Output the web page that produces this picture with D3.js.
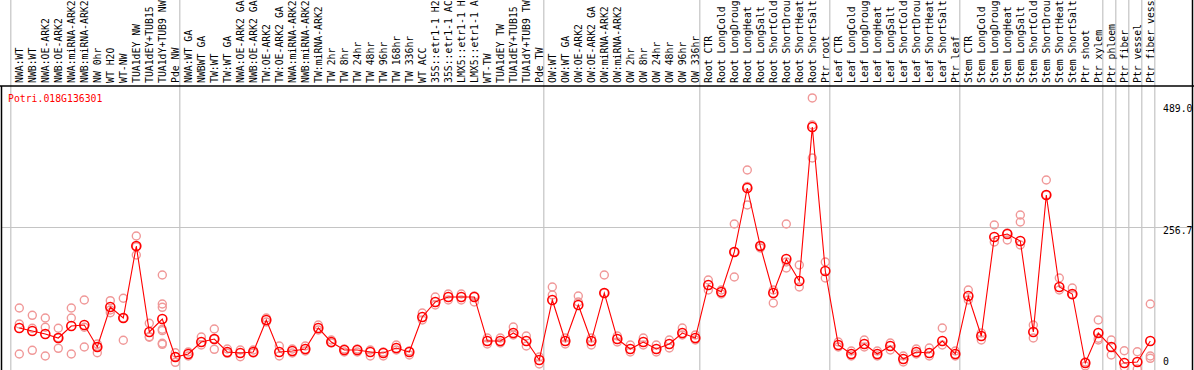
<!DOCTYPE html>
<html><head><meta charset="utf-8">
<script src="https://cdn.jsdelivr.net/npm/d3@7"></script>
<style>body{margin:0;background:#fff}svg{display:block}text{font-family:"DejaVu Sans Mono",monospace;font-size:9.8px}</style>
</head><body><svg id="c" width="1194" height="370"></svg>
<script>
const categories = ["NWA:WT","NWB:WT","NWA:OE-ARK2","NWB:OE-ARK2","NWA:miRNA-ARK2","NWB:miRNA-ARK2","NW 0hr","WT H2O","WT-NW","TUA1dEY NW","TUA1dEY+TUB15","TUA1dY+TUB9 NW","Pde NW",
"NWA:WT GA","NWBWT GA","TW:WT","TW:WT GA","NWA:OE-ARK2 GA","NWB:OE-ARK2 GA","TW:OE-ARK2","TW:OE-ARK2 GA","NWA:miRNA-ARK2","NWB:miRNA-ARK2","TW:miRNA-ARK2","TW 2hr","TW 8hr","TW 24hr","TW 48hr","TW 96hr","TW 168hr","TW 336hr","WT ACC","35S::etr1-1 H2","35S::etr1-1 AC","LMX5::etr1-1 H","LMX5::etr1-1 A","WT-TW","TUA1dEY TW","TUA1dEY+TUB15","TUA1dY+TUB9 TW","Pde TW",
"OW:WT","OW:WT GA","OW:OE-ARK2","OW:OE-ARK2 GA","OW:miRNA-ARK2","OW:miRNA-ARK2","OW 2hr","OW 8hr","OW 24hr","OW 48hr","OW 96hr","OW 336hr",
"Root CTR","Root LongCold","Root LongDroug","Root LongHeat","Root LongSalt","Root ShortCold","Root ShortDrou","Root ShortHeat","Root ShortSalt","Ptr root",
"Leaf CTR","Leaf LongCold","Leaf LongDroug","Leaf LongHeat","Leaf LongSalt","Leaf ShortCold","Leaf ShortDrou","Leaf ShortHeat","Leaf ShortSalt","Ptr leaf",
"Stem CTR","Stem LongCold","Stem LongDroug","Stem LongHeat","Stem LongSalt","Stem ShortCold","Stem ShortDrou","Stem ShortHeat","Stem ShortSalt","Ptr shoot","Ptr xylem","Ptr phloem","Ptr fiber","Ptr vessel","Ptr fiber vess"];
const means = [75.5,70.1,64.7,57.5,79.1,80.9,41.4,113.3,93.5,222.9,68.3,91.7,23.4,
28.8,50.3,55.7,32.4,30.6,32.4,89.9,32.4,34.2,37.8,75.5,50.3,36.0,36.0,32.4,30.6,39.6,32.4,95.3,122.3,131.3,131.3,131.3,52.1,52.1,66.5,52.1,18.0,
125.9,52.1,116.9,52.1,138.4,55.7,37.8,50.3,37.8,46.7,66.5,57.5,
152.8,140.2,212.2,327.2,222.9,138.4,199.6,160.0,436.9,178.0,
45.0,28.8,46.7,28.8,43.2,19.8,32.4,30.6,52.1,28.8,
133.1,61.1,239.1,244.5,231.9,68.3,314.7,149.2,136.6,12.6,66.5,41.4,12.6,14.4,52.1];
const replicates = [[111.5,82.7,28.8],[98.3,75.0,35.4],[93.5,76.8,25.2],[75.0,39.0,58.1],[111.5,93.5,28.8],[125.9,76.8,41.4],[46.7,41.4,31.1],[124.6,107.9,103.0],[128.9,93.5,53.4],[240.9,206.8,221.7],[84.0,59.9,58.8],[170.8,118.7,112.7,73.2,70.7,48.0,46.2],[31.1,23.9,13.8],
[32.4,25.2],[59.3,45.0],[73.7,37.2,55.7],[37.8,30.0],[36.0,23.9],[36.0,30.6],[93.5,86.3],[43.2,25.2],[37.8,30.6],[43.2,34.2],[80.9,71.9],[53.9,48.5],[37.8,32.4],[37.8,32.4],[36.0,25.2],[32.4,25.2],[45.0,36.0],[34.2,27.0],[102.5,89.9],[131.3,116.9],[136.6,125.9],[136.6,125.9],[133.1,122.3],[57.5,46.7],[57.5,48.5],[77.3,62.9],[61.1,43.2],[23.4,10.8],
[149.2,134.9],[57.5,46.7],[133.1,122.3],[57.5,45.0],[170.8,138.4],[61.1,50.3],[45.0,32.4],[57.5,45.0],[45.0,32.4],[53.9,39.6],[75.5,62.9],[62.9,53.9],
[161.8,143.8],[143.8,136.6],[262.5,167.2,212.2],[359.6,330.0,296.6],[222.9,219.4],[143.8,120.5],[262.5,194.2,183.4],[188.8,149.2],[489.1,440.5,381.2],[194.2,165.4],
[50.3,41.4],[34.2,25.2],[53.9,41.4],[34.2,25.2],[48.5,36.0],[25.2,14.4],[37.8,28.8],[39.6,25.2],[75.5,45.0],[34.2,25.2],
[143.8,125.9],[66.5,53.9],[260.7,230.1],[246.3,233.7],[278.7,266.1,224.7],[80.9,57.5],[341.6,314.7],[165.4,143.8],[147.4,134.9],[14.4,7.2],[89.9,57.0,53.9],[53.9,27.0],[34.7,5.4],[32.9,1.8],[118.7,25.2,21.0]];
const groupEnds = [-1,12,40,52,62,72,83,84,85,86,87];
const axisTicks = [489.0, 256.7, 0];
const axisTickLabels = ["489.0","256.7","0"];
const geneId = "Potri.018G136301";

const W = 1194, H = 370, headerY = 86;
const svg = d3.select("#c");
const x = d3.scaleLinear().domain([0, categories.length - 1]).range([19.3, 1150.3]);
const y = d3.scaleLinear().domain([0, 489]).range([370, 98]);

svg.selectAll("line.sep").data(groupEnds).join("line")
  .attr("x1", d => x(d) + 4.5).attr("x2", d => x(d) + 4.5)
  .attr("y1", 0).attr("y2", H).attr("stroke", "#c4c4c4").attr("stroke-width", 1.2);
svg.append("line").attr("x1", 1).attr("x2", W - 1)
  .attr("y1", Math.round(y(256.7)) + 0.5).attr("y2", Math.round(y(256.7)) + 0.5)
  .attr("stroke", "#c4c4c4").attr("stroke-width", 1.2);
svg.append("line").attr("x1", 0).attr("x2", W).attr("y1", headerY).attr("y2", headerY).attr("stroke", "#000").attr("stroke-width", 1.5);
svg.append("line").attr("x1", 1.5).attr("x2", 1.5).attr("y1", headerY).attr("y2", H).attr("stroke", "#000").attr("stroke-width", 1.5);
svg.append("line").attr("x1", W - 1.5).attr("x2", W - 1.5).attr("y1", 0).attr("y2", H).attr("stroke", "#000").attr("stroke-width", 1.5);

svg.selectAll("text.cat").data(categories).join("text")
  .attr("transform", (d, i) => `translate(${x(i) + 3.5},83) rotate(-90)`)
  .attr("fill", "#000").text(d => d);

const labelOffsets = [14, 7, -5];
svg.selectAll("text.ax").data(axisTicks).join("text")
  .attr("x", 1163).attr("y", (d, i) => y(d) + labelOffsets[i])
  .attr("fill", "#000").text((d, i) => axisTickLabels[i]);

svg.append("text").attr("x", 8).attr("y", 102).attr("fill", "#ff0000").text(geneId);

const repPts = [];
replicates.forEach((r, i) => r.forEach(v => repPts.push([i, v])));
svg.selectAll("circle.rep").data(repPts).join("circle")
  .attr("cx", d => x(d[0])).attr("cy", d => y(d[1])).attr("r", 4)
  .attr("fill", "none").attr("stroke", "#f09898").attr("stroke-width", 1.4);

svg.append("path").datum(means)
  .attr("d", d3.line().x((d, i) => x(i)).y(d => y(d)))
  .attr("fill", "none").attr("stroke", "#ff0000").attr("stroke-width", 1.1);
svg.selectAll("circle.mean").data(means).join("circle")
  .attr("cx", (d, i) => x(i)).attr("cy", d => y(d)).attr("r", 4.5)
  .attr("fill", "none").attr("stroke", "#ff0000").attr("stroke-width", 1.6);
</script></body></html>
